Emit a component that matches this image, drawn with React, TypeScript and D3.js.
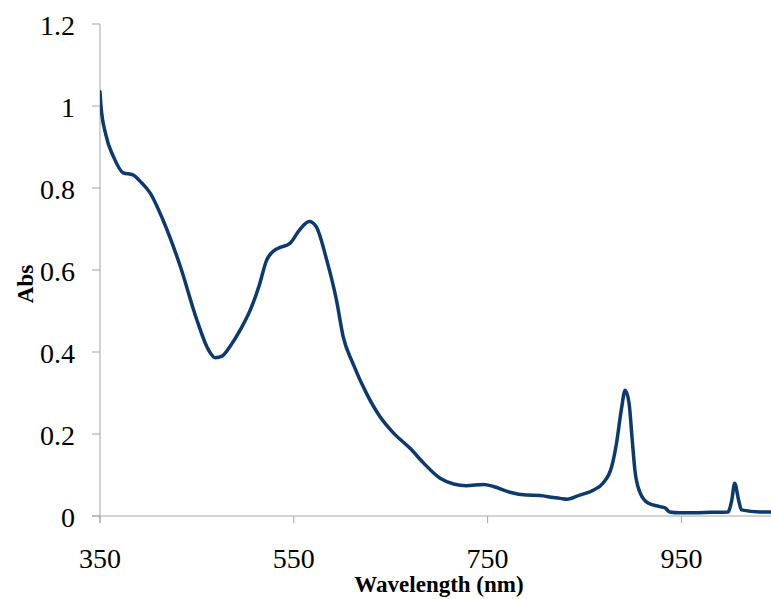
import React from "react";
import * as d3 from "d3";

const wavelength = [350, 351, 356, 364, 374, 384, 392, 402, 415, 433, 450, 462, 469, 476, 484, 495, 505, 514, 522, 530, 536, 546, 556, 566, 573, 584, 594, 601, 611, 625, 639, 653, 670, 684, 701, 715, 728, 746, 756, 773, 790, 804, 818, 825, 832, 845, 859, 869, 878, 883, 888, 892, 896, 899, 902, 907, 916, 928, 933, 938, 948, 962, 980, 998, 1002, 1005, 1009, 1012, 1031, 1050];
const absorbance = [1.035, 1.0, 0.93, 0.876, 0.837, 0.832, 0.815, 0.787, 0.722, 0.608, 0.478, 0.405, 0.386, 0.39, 0.413, 0.455, 0.502, 0.56, 0.624, 0.648, 0.655, 0.665, 0.698, 0.718, 0.706, 0.624, 0.527, 0.437, 0.372, 0.299, 0.242, 0.202, 0.165, 0.129, 0.092, 0.078, 0.074, 0.077, 0.072, 0.058, 0.051, 0.05, 0.045, 0.043, 0.041, 0.051, 0.063, 0.08, 0.12, 0.177, 0.259, 0.307, 0.275, 0.193, 0.112, 0.059, 0.031, 0.023, 0.02, 0.01, 0.008, 0.008, 0.009, 0.01, 0.039, 0.08, 0.039, 0.015, 0.01, 0.01];

const yTicks = [0, 0.2, 0.4, 0.6, 0.8, 1, 1.2];
const xTicks = [350, 550, 750, 950];

export default function App() {
  const x = d3.scaleLinear().domain([350, 1050]).range([100, 778.3]);
  const y = d3.scaleLinear().domain([0, 1.2]).range([516, 24]);
  const pts: [number, number][] = wavelength.map((w, i) => [w, absorbance[i]]);
  const line = d3
    .line<[number, number]>()
    .x((d) => x(d[0]))
    .y((d) => y(d[1]))
    .curve(d3.curveMonotoneX);
  const axisColor = "#a6a6a6";
  const font = "'Liberation Serif', 'Times New Roman', serif";
  return (
    <svg
      width={771}
      height={599}
      style={{ position: "absolute", left: 0, top: 0, background: "#fff" }}
    >
      <defs>
        <clipPath id="plot">
          <rect x={100} y={0} width={671} height={520} />
        </clipPath>
      </defs>
      <line x1={100} x2={100} y1={y(1.2)} y2={523} stroke={axisColor} strokeWidth={1} />
      <line x1={92} x2={771} y1={y(0)} y2={y(0)} stroke={axisColor} strokeWidth={1} />
      {yTicks.map((t) => (
        <g key={"y" + t}>
          <line x1={92} x2={100} y1={y(t)} y2={y(t)} stroke={axisColor} strokeWidth={1} />
          <text
            x={75}
            y={y(t) + 11}
            textAnchor="end"
            fontFamily={font}
            fontSize={28}
            fill="#000"
          >
            {String(t)}
          </text>
        </g>
      ))}
      {xTicks.map((t) => (
        <g key={"x" + t}>
          <line x1={x(t)} x2={x(t)} y1={y(0)} y2={523} stroke={axisColor} strokeWidth={1} />
          <text
            x={x(t)}
            y={568}
            textAnchor="middle"
            fontFamily={font}
            fontSize={28}
            fill="#000"
          >
            {String(t)}
          </text>
        </g>
      ))}
      <text
        x={439}
        y={592}
        textAnchor="middle"
        fontFamily={font}
        fontSize={23}
        fontWeight="bold"
        fill="#000"
      >
        Wavelength (nm)
      </text>
      <text
        transform={`translate(33,284) rotate(-90)`}
        textAnchor="middle"
        fontFamily={font}
        fontSize={23}
        fontWeight="bold"
        fill="#000"
      >
        Abs
      </text>
      <path
        d={line(pts) || ""}
        fill="none"
        stroke="#0d3a6e"
        strokeWidth={3.5}
        strokeLinejoin="round"
        strokeLinecap="round"
        clipPath="url(#plot)"
      />
    </svg>
  );
}
